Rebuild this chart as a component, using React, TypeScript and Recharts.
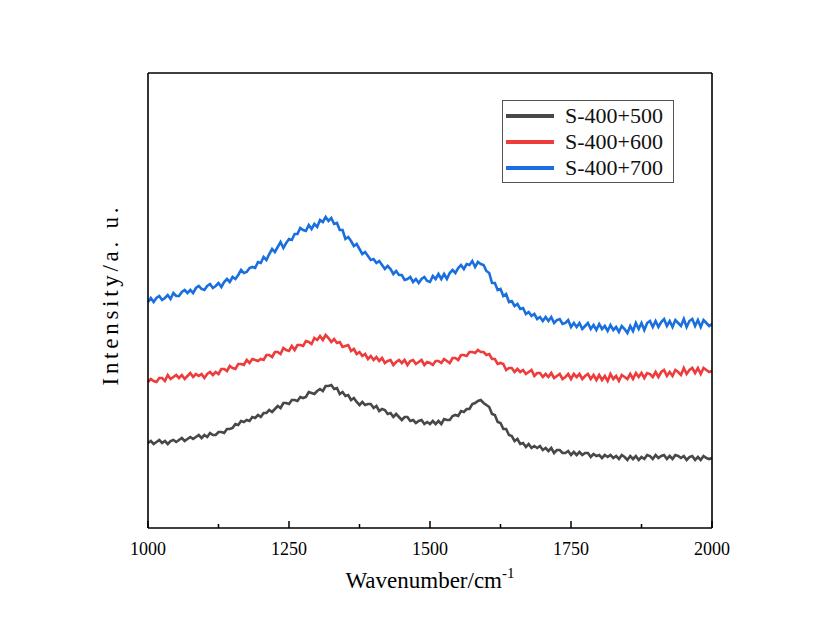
import React from "react";
import {LineChart, Line, XAxis, YAxis, Legend} from "recharts";

// Raman spectra, intensity in arbitrary units
const wavenumbers = [
    1000, 1005, 1010, 1015, 1020, 1025, 1030, 1035, 1040, 1045, 1050, 1055, 1060, 1065, 1070, 1075, 1080, 1085, 1090, 1095,
    1100, 1105, 1110, 1115, 1120, 1125, 1130, 1135, 1140, 1145, 1150, 1155, 1160, 1165, 1170, 1175, 1180, 1185, 1190, 1195,
    1200, 1205, 1210, 1215, 1220, 1225, 1230, 1235, 1240, 1245, 1250, 1255, 1260, 1265, 1270, 1275, 1280, 1285, 1290, 1295,
    1300, 1305, 1310, 1315, 1320, 1325, 1330, 1335, 1340, 1345, 1350, 1355, 1360, 1365, 1370, 1375, 1380, 1385, 1390, 1395,
    1400, 1405, 1410, 1415, 1420, 1425, 1430, 1435, 1440, 1445, 1450, 1455, 1460, 1465, 1470, 1475, 1480, 1485, 1490, 1495,
    1500, 1505, 1510, 1515, 1520, 1525, 1530, 1535, 1540, 1545, 1550, 1555, 1560, 1565, 1570, 1575, 1580, 1585, 1590, 1595,
    1600, 1605, 1610, 1615, 1620, 1625, 1630, 1635, 1640, 1645, 1650, 1655, 1660, 1665, 1670, 1675, 1680, 1685, 1690, 1695,
    1700, 1705, 1710, 1715, 1720, 1725, 1730, 1735, 1740, 1745, 1750, 1755, 1760, 1765, 1770, 1775, 1780, 1785, 1790, 1795,
    1800, 1805, 1810, 1815, 1820, 1825, 1830, 1835, 1840, 1845, 1850, 1855, 1860, 1865, 1870, 1875, 1880, 1885, 1890, 1895,
    1900, 1905, 1910, 1915, 1920, 1925, 1930, 1935, 1940, 1945, 1950, 1955, 1960, 1965, 1970, 1975, 1980, 1985, 1990, 1995,
    2000,
];

const s500 = [
    85, 87, 84, 86, 88, 85, 87, 84, 87, 88, 86, 88, 90, 87, 89, 91, 89, 91, 93, 90,
    93, 91, 95, 93, 93, 96, 96, 95, 99, 99, 100, 104, 103, 107, 106, 108, 107, 111, 110, 113,
    111, 115, 115, 118, 116, 119, 122, 120, 125, 125, 124, 128, 128, 127, 131, 130, 131, 136, 135, 134,
    137, 139, 137, 142, 142, 143, 139, 140, 134, 136, 132, 133, 128, 130, 126, 123, 126, 123, 124, 124,
    120, 122, 117, 119, 118, 114, 115, 111, 114, 111, 108, 111, 111, 107, 108, 105, 107, 108, 104, 106,
    104, 107, 104, 107, 104, 109, 108, 108, 112, 113, 112, 117, 116, 119, 119, 124, 125, 127, 128, 125,
    123, 121, 114, 113, 106, 105, 99, 99, 93, 92, 87, 89, 84, 85, 81, 84, 80, 82, 80, 82,
    78, 80, 77, 80, 75, 78, 78, 75, 75, 77, 73, 76, 73, 76, 73, 75, 75, 71, 74, 72,
    73, 70, 73, 71, 73, 70, 72, 69, 73, 71, 68, 72, 69, 72, 68, 71, 69, 73, 72, 69,
    73, 70, 72, 73, 69, 72, 69, 73, 72, 70, 72, 68, 71, 72, 68, 71, 68, 72, 70, 69,
    70,
];

const s600 = [
    146, 149, 147, 146, 150, 150, 147, 153, 149, 151, 153, 150, 153, 149, 152, 155, 151, 154, 152, 154,
    150, 154, 156, 153, 156, 154, 159, 159, 157, 162, 160, 159, 164, 164, 163, 168, 165, 169, 168, 167,
    169, 168, 173, 173, 171, 176, 176, 174, 180, 178, 177, 182, 178, 183, 183, 182, 187, 186, 184, 190,
    188, 192, 188, 193, 190, 186, 189, 185, 186, 181, 182, 183, 177, 179, 174, 176, 172, 174, 169, 172,
    168, 171, 167, 170, 165, 167, 168, 163, 166, 168, 165, 168, 163, 167, 168, 164, 166, 168, 163, 166,
    165, 163, 167, 167, 165, 169, 167, 165, 170, 170, 168, 173, 173, 172, 176, 176, 175, 178, 176, 176,
    173, 174, 169, 169, 164, 165, 164, 158, 160, 160, 156, 159, 156, 158, 154, 156, 158, 152, 155, 155,
    151, 154, 151, 155, 150, 152, 154, 149, 151, 154, 149, 154, 151, 154, 149, 152, 154, 149, 153, 148,
    153, 148, 152, 147, 154, 149, 152, 147, 153, 151, 149, 154, 149, 155, 151, 155, 150, 155, 154, 151,
    156, 151, 156, 158, 152, 156, 152, 158, 156, 153, 160, 154, 158, 160, 155, 160, 154, 160, 158, 156,
    157,
];

const s700 = [
    226, 230, 226, 230, 232, 228, 230, 233, 229, 235, 232, 232, 236, 238, 235, 238, 235, 240, 242, 239,
    238, 242, 244, 240, 242, 245, 241, 246, 249, 246, 251, 249, 253, 258, 255, 256, 260, 261, 260, 266,
    265, 271, 268, 274, 279, 276, 281, 286, 280, 285, 289, 288, 294, 294, 300, 298, 297, 303, 299, 304,
    301, 308, 306, 311, 307, 310, 304, 305, 298, 298, 289, 291, 287, 282, 284, 279, 274, 276, 272, 268,
    269, 265, 267, 263, 259, 262, 259, 254, 257, 253, 253, 248, 249, 251, 246, 249, 245, 249, 251, 247,
    246, 252, 249, 254, 249, 254, 249, 255, 258, 255, 260, 263, 259, 264, 263, 267, 261, 266, 264, 263,
    257, 255, 245, 245, 238, 239, 232, 234, 226, 227, 222, 224, 219, 220, 214, 216, 212, 214, 209, 211,
    207, 211, 207, 211, 205, 208, 209, 204, 205, 208, 201, 205, 201, 205, 199, 202, 205, 199, 203, 198,
    204, 199, 202, 197, 203, 198, 201, 196, 202, 199, 195, 202, 197, 205, 199, 205, 198, 205, 207, 201,
    207, 201, 206, 209, 202, 207, 201, 208, 205, 202, 209, 201, 207, 209, 202, 208, 201, 208, 205, 202,
    204,
];

const seriesNames = ["S-400+500", "S-400+600", "S-400+700"];
const seriesColors = ["#484848", "#ee3b3b", "#1a6fdf"];
const xTicks = [1000, 1125, 1250, 1375, 1500, 1625, 1750, 1875, 2000];
const majorTicks = [1000, 1250, 1500, 1750, 2000];

const FONT = "'Liberation Serif', 'Times New Roman', serif";

const data = wavenumbers.map((wn, i) => ({
    wn,
    s500: s500[i],
    s600: s600[i],
    s700: s700[i],
}));

const InwardTick = ({x, y, payload}: any): JSX.Element => {
    const major = majorTicks.includes(payload.value);
    return (
        <g>
            <line x1={x} x2={x} y1={y} y2={y - (major ? 7 : 4)} stroke="#000" strokeWidth={1.5}/>
            {major && (
                <text x={x} y={y + 27} textAnchor="middle" fontSize={18} fontFamily={FONT} fill="#000">
                    {payload.value}
                </text>
            )}
        </g>
    );
};

const LegendBox = (): JSX.Element => (
    <div style={{
        width: 172,
        height: 83,
        boxSizing: "border-box",
        border: "1px solid #555",
        background: "#fff",
        paddingTop: 2,
        fontFamily: FONT,
    }}>
        {seriesNames.map((name, i) => (
            <div key={name} style={{display: "flex", alignItems: "center", height: 26}}>
                <div style={{width: 48, height: 4, marginLeft: 3, background: seriesColors[i]}}/>
                <span style={{marginLeft: 11, fontSize: 22, lineHeight: "26px", color: "#111"}}>{name}</span>
            </div>
        ))}
    </div>
);

const frameLine = {stroke: "#000", strokeWidth: 1.6};

const App = (): JSX.Element => {
    return (
        <div style={{position: "absolute", left: 0, top: 0, width: 828, height: 634, background: "#fff"}}>
            <LineChart
                width={828}
                height={634}
                data={data}
                margin={{top: 72, right: 115, bottom: 46, left: 147}}
            >
                <XAxis
                    dataKey="wn"
                    type="number"
                    domain={[1000, 2000]}
                    ticks={xTicks}
                    interval={0}
                    height={60}
                    tickSize={0}
                    tickMargin={0}
                    tickLine={false}
                    tick={<InwardTick/>}
                    axisLine={frameLine}
                    label={{
                        content: ({viewBox}: any) => (
                            <text
                                x={viewBox.x + viewBox.width / 2}
                                y={viewBox.y + 60}
                                textAnchor="middle"
                                fontSize={23}
                                fontFamily={FONT}
                                fill="#000"
                            >
                                Wavenumber/cm
                                <tspan fontSize={15} dy={-10}>-1</tspan>
                            </text>
                        ),
                    }}
                />
                <XAxis
                    xAxisId="top"
                    dataKey="wn"
                    type="number"
                    orientation="top"
                    domain={[1000, 2000]}
                    height={1}
                    tick={false}
                    tickLine={false}
                    axisLine={frameLine}
                />
                <YAxis
                    type="number"
                    domain={[0, 455]}
                    width={1}
                    tick={false}
                    tickLine={false}
                    axisLine={frameLine}
                    label={{
                        content: ({viewBox}: any) => {
                            const cx = viewBox.x + viewBox.width - 38;
                            const cy = viewBox.y + viewBox.height / 2 - 4;
                            return (
                                <text
                                    x={cx}
                                    y={cy}
                                    transform={`rotate(-90, ${cx}, ${cy})`}
                                    textAnchor="middle"
                                    dominantBaseline="central"
                                    fontSize={23}
                                    fontFamily={FONT}
                                    textLength={178}
                                    lengthAdjust="spacing"
                                    fill="#000"
                                >
                                    Intensity/a. u.
                                </text>
                            );
                        },
                    }}
                />
                <YAxis
                    yAxisId="right"
                    orientation="right"
                    type="number"
                    domain={[0, 455]}
                    width={1}
                    tick={false}
                    tickLine={false}
                    axisLine={frameLine}
                />
                <Legend
                    layout="vertical"
                    align="center"
                    verticalAlign="middle"
                    content={<LegendBox/>}
                    wrapperStyle={{left: 502, top: 100, width: 172, height: 83}}
                />
                <Line dataKey="s500" name={seriesNames[0]} stroke={seriesColors[0]} strokeWidth={2.6}
                      dot={false} isAnimationActive={false}/>
                <Line dataKey="s600" name={seriesNames[1]} stroke={seriesColors[1]} strokeWidth={2.6}
                      dot={false} isAnimationActive={false}/>
                <Line dataKey="s700" name={seriesNames[2]} stroke={seriesColors[2]} strokeWidth={2.6}
                      dot={false} isAnimationActive={false}/>
            </LineChart>
        </div>
    );
};

export default App;
